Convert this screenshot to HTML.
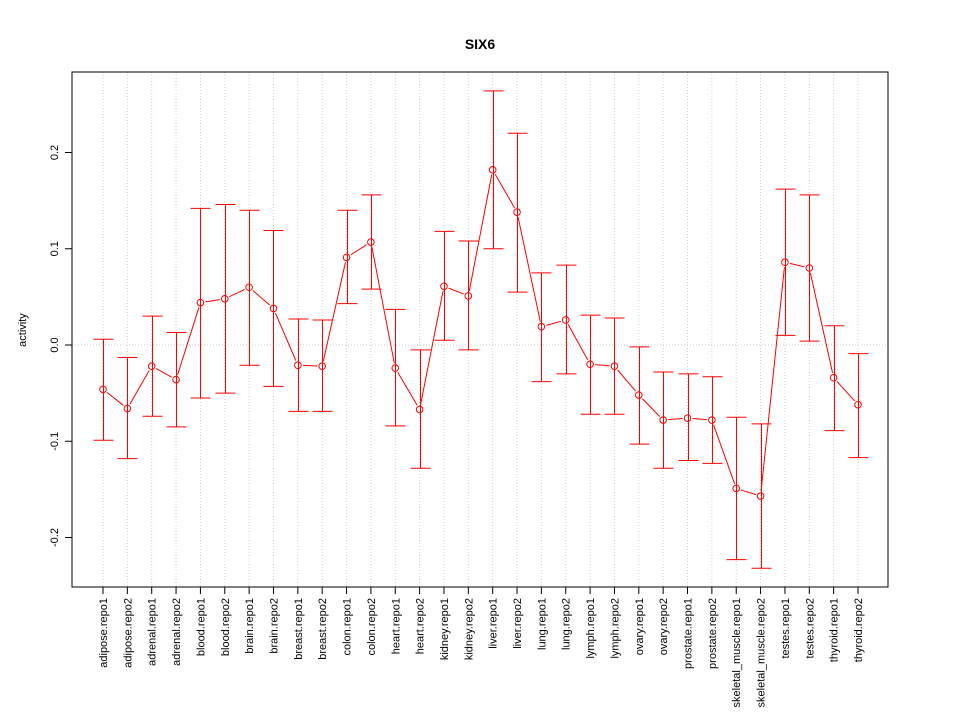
<!DOCTYPE html>
<html><head><meta charset="utf-8"><style>body{margin:0;background:#fff}svg{display:block;font-family:"Liberation Sans",sans-serif}</style></head>
<body>
<svg id="chart" width="960" height="720">
<text x="480" y="49" text-anchor="middle" font-size="14" font-weight="bold">SIX6</text>
<text transform="translate(26,330) rotate(-90)" text-anchor="middle" font-size="11">activity</text>
<g id="grid"></g><g id="axes"></g><g id="marks"></g>
<rect x="72" y="72" width="816" height="515" fill="none" stroke="#000"/>
</svg>
<script>
const categories=["adipose.repo1","adipose.repo2","adrenal.repo1","adrenal.repo2","blood.repo1","blood.repo2","brain.repo1","brain.repo2","breast.repo1","breast.repo2","colon.repo1","colon.repo2","heart.repo1","heart.repo2","kidney.repo1","kidney.repo2","liver.repo1","liver.repo2","lung.repo1","lung.repo2","lymph.repo1","lymph.repo2","ovary.repo1","ovary.repo2","prostate.repo1","prostate.repo2","skeletal_muscle.repo1","skeletal_muscle.repo2","testes.repo1","testes.repo2","thyroid.repo1","thyroid.repo2"];
const values=[-0.046,-0.066,-0.022,-0.036,0.044,0.048,0.060,0.038,-0.021,-0.022,0.091,0.107,-0.024,-0.067,0.061,0.051,0.182,0.138,0.019,0.026,-0.020,-0.022,-0.052,-0.078,-0.076,-0.078,-0.149,-0.157,0.086,0.080,-0.034,-0.062];
const upper=[0.006,-0.013,0.030,0.013,0.142,0.146,0.140,0.119,0.027,0.026,0.140,0.156,0.037,-0.005,0.118,0.108,0.264,0.220,0.075,0.083,0.031,0.028,-0.002,-0.028,-0.030,-0.033,-0.075,-0.082,0.162,0.156,0.020,-0.009];
const lower=[-0.099,-0.118,-0.074,-0.085,-0.055,-0.050,-0.021,-0.043,-0.069,-0.069,0.043,0.058,-0.084,-0.128,0.005,-0.005,0.100,0.055,-0.038,-0.030,-0.072,-0.072,-0.103,-0.128,-0.120,-0.123,-0.223,-0.232,0.010,0.004,-0.089,-0.117];
const yTicks=[-0.2,-0.1,0.0,0.1,0.2];
const yTickLabels=["-0.2","-0.1","0.0","0.1","0.2"];
const NS="http://www.w3.org/2000/svg";
function xs(i){return 103+i*(858-103)/(categories.length-1);}
function ys(v){return 345-v*962.5;}
function mk(t,a,p){const e=document.createElementNS(NS,t);for(const k in a)e.setAttribute(k,a[k]);p.appendChild(e);return e;}
const grid=document.getElementById('grid'),axes=document.getElementById('axes'),marks=document.getElementById('marks');
categories.forEach((c,i)=>{
 const x=xs(i);
 const g=mk('line',{x1:x,x2:x,y1:72,y2:587,stroke:'#ccc','stroke-dasharray':'1,2'},grid);
 
 
 const t=mk('line',{x1:x,x2:x,y1:587,y2:594,stroke:'#000'},axes);
 
 
 const l=mk('text',{transform:`translate(${x+4},598) rotate(-90)`,'text-anchor':'end','font-size':'11'},axes);
 l.textContent=c;
 
 
});
const zg=mk('line',{x1:72,x2:888,y1:ys(0),y2:ys(0),stroke:'#ccc','stroke-dasharray':'1,2'},grid);


yTicks.forEach((v,i)=>{
 const y=ys(v);
 const t=mk('line',{x1:65,x2:72,y1:y,y2:y,stroke:'#000'},axes);
 
 
 const l=mk('text',{transform:`translate(58,${y}) rotate(-90)`,'text-anchor':'middle','font-size':'11'},axes);
 l.textContent=yTickLabels[i];
 
 
});
for(let i=0;i<values.length-1;i++){
 const x1=xs(i),y1=ys(values[i]),x2=xs(i+1),y2=ys(values[i+1]);
 const d=Math.hypot(x2-x1,y2-y1),g=5;
 if(d<=2*g)continue;
 const ux=(x2-x1)/d,uy=(y2-y1)/d;
 const s=mk('line',{x1:x1+ux*g,y1:y1+uy*g,x2:x2-ux*g,y2:y2-uy*g,stroke:'red'},marks);
 
 
}
values.forEach((v,i)=>{
 const x=Math.round(xs(i))+0.5;
 const e=mk('path',{d:`M${x},${ys(upper[i])}V${ys(lower[i])}M${x-10},${ys(upper[i])}H${x+10}M${x-10},${ys(lower[i])}H${x+10}`,stroke:'red','stroke-width':1,fill:'none'},marks);
 
 
 const p=mk('circle',{cx:xs(i),cy:ys(v),r:3.3,fill:'none',stroke:'red'},marks);
 
 
});
</script>
</body></html>
